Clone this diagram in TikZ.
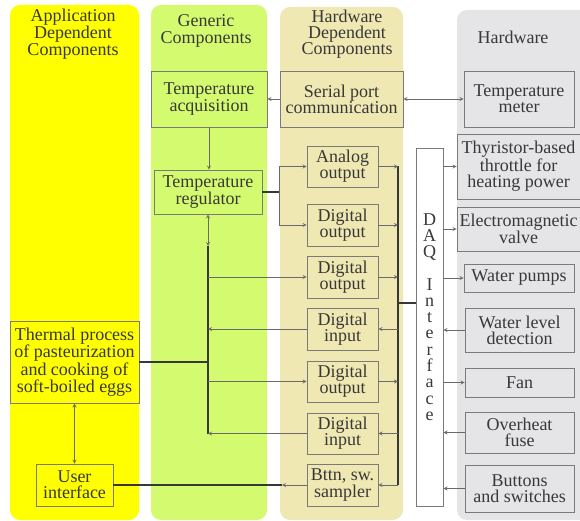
\documentclass[tikz,border=0pt]{standalone}
\usepackage{fontspec}
\setmainfont{Liberation Serif}
\newfontfamily\timesfont{Liberation Serif}
\usetikzlibrary{positioning}

\definecolor{appyellow}{HTML}{FFFF00}
\definecolor{gengreen}{HTML}{D4FB6F}
\definecolor{hwdtan}{HTML}{F0E8B2}
\definecolor{hwgray}{HTML}{E5E5E7}
\definecolor{boxline}{HTML}{7A7A7A}
\definecolor{wire}{HTML}{6A6A6A}
\definecolor{txt}{HTML}{383838}

\newcommand{\boxfont}{\timesfont\fontsize{18}{16.3}\selectfont}

\begin{document}
\begin{tikzpicture}[x=1pt, y=-1pt, >=stealth,
    lane/.style={rounded corners=10pt},
    head/.style={align=center, text=txt, font=\boxfont},
    box/.style={draw=boxline, line width=0.8pt, align=center, inner sep=0pt, text=txt, font=\boxfont},
    wire/.style={draw=wire, line width=0.8pt},
    bus/.style={draw=txt, line width=1.6pt}]
    \useasboundingbox (0,0) rectangle (580,521);

    % Lanes
    \fill[lane, appyellow] (10,5) rectangle (139,520);
    \fill[lane, gengreen] (151,5) rectangle (267,520);
    \fill[lane, hwdtan] (280,7) rectangle (403,520);
    \fill[lane, hwgray] (457,10) rectangle (600,520);

    \node[head] (apphead) at (73,34) {Application\\Dependent\\Components};
    \node[head] (genhead) at (206,31) {Generic\\Components};
    \node[head] (hwdhead) at (347,34) {Hardware\\Dependent\\Components};
    \node[head] (hwhead) at (513,37) {Hardware};

    % Application dependent
    \node[box, fill=appyellow, minimum width=129pt, minimum height=82pt] (thermal) at (74.5,362) {Thermal process\\of pasteurization\\and cooking of\\soft-boiled eggs};
    \node[box, fill=appyellow, minimum width=77pt, minimum height=42pt] (ui) at (74.5,485) {User\\interface};

    % Generic
    \node[box, fill=gengreen, minimum width=116pt, minimum height=56pt] (acq) at (209,99) {Temperature\\acquisition};
    \node[box, fill=gengreen, minimum width=108pt, minimum height=44pt] (reg) at (208,192) {Temperature\\regulator};

    % Hardware dependent
    \node[box, fill=hwdtan, minimum width=123pt, minimum height=56pt] (serial) at (341.5,99) {Serial port\\communication};
    \node[box, fill=hwdtan, minimum width=71pt, minimum height=41pt] (ao) at (342.5,166.5) {Analog\\output};
    \node[box, fill=hwdtan, minimum width=71pt, minimum height=42pt] (do1) at (342.5,225) {Digital\\output};
    \node[box, fill=hwdtan, minimum width=71pt, minimum height=42pt] (do2) at (342.5,277) {Digital\\output};
    \node[box, fill=hwdtan, minimum width=71pt, minimum height=42pt] (di1) at (342.5,329) {Digital\\input};
    \node[box, fill=hwdtan, minimum width=71pt, minimum height=41pt] (do3) at (342.5,381.5) {Digital\\output};
    \node[box, fill=hwdtan, minimum width=71pt, minimum height=41pt] (di2) at (342.5,433.5) {Digital\\input};
    \node[box, fill=hwdtan, minimum width=71pt, minimum height=42pt] (samp) at (342.5,485) {Bttn, sw.\\sampler};

    % DAQ
    \node[box, fill=white, minimum width=27pt, minimum height=358pt] (daq) at (429.5,327) {};
    \node[head, inner sep=0pt] (daqtext) at (429.5,317) {D\\A\\Q\\[16pt]I\\n\\t\\e\\r\\f\\a\\c\\e};

    % Hardware
    \node[box, fill=hwgray, minimum width=110pt, minimum height=56pt] (tmeter) at (519,99) {Temperature\\meter};
    \node[box, fill=hwgray, minimum width=123pt, minimum height=65pt] (thy) at (518.5,166.5) {Thyristor-based\\throttle for\\heating power};
    \node[box, fill=hwgray, minimum width=123pt, minimum height=44pt] (valve) at (518.5,229) {Electromagnetic\\valve};
    \node[box, fill=hwgray, minimum width=110pt, minimum height=28pt] (pumps) at (519,278) {Water pumps};
    \node[box, fill=hwgray, minimum width=109pt, minimum height=44pt] (level) at (519.5,330) {Water level\\detection};
    \node[box, fill=hwgray, minimum width=109pt, minimum height=29pt] (fan) at (519.5,382.5) {Fan};
    \node[box, fill=hwgray, minimum width=109pt, minimum height=41pt] (fuse) at (519.5,432.5) {Overheat\\fuse};
    \node[box, fill=hwgray, minimum width=109pt, minimum height=47pt] (buttons) at (519.5,488.5) {Buttons\\and switches};

    % Serial and acquisition
    \draw[wire, ->] (serial.west) -- (acq.east);
    \draw[wire, <->] (serial.east) -- (tmeter.west);
    \draw[wire, ->] (acq.south) -- (acq.south |- reg.north);

    % Regulator outputs
    \coordinate (split) at (279,192);
    \draw[bus] (reg.east) -- (split);
    \draw[wire] (split |- ao.west) -- (split |- do1.west);
    \draw[wire, ->] (split |- ao.west) -- (ao.west);
    \draw[wire, ->] (split |- do1.west) -- (do1.west);

    % Left bus
    \coordinate (lbtop) at (208,246);
    \draw[wire, <->] (reg.south) -- (lbtop);
    \draw[bus] (lbtop) -- (lbtop |- di2.west);
    \draw[wire, ->] (lbtop |- do2.west) -- (do2.west);
    \draw[wire, ->] (di1.west) -- (lbtop |- di1.west);
    \draw[bus] (thermal.east) -- (lbtop |- thermal.east);
    \draw[wire, ->] (lbtop |- do3.west) -- (do3.west);
    \draw[wire, ->] (di2.west) -- (lbtop |- di2.west);

    % Right bus
    \coordinate (rbus) at (398,303);
    \draw[bus] (rbus |- ao.east) -- (rbus |- samp.east);
    \draw[bus] (rbus) -- (daq.west |- rbus);
    \foreach \o in {ao, do1, do2, do3}
        \draw[wire, ->] (\o.east) -- (rbus |- \o.east);
    \foreach \i in {di1, di2, samp}
        \draw[wire, ->] (rbus |- \i.east) -- (\i.east);

    % DAQ and hardware
    \foreach \o in {thy, valve, pumps, fan}
        \draw[wire, ->] (daq.east |- \o.west) -- (\o.west);
    \foreach \i in {level, fuse, buttons}
        \draw[wire, ->] (\i.west) -- (daq.east |- \i.west);

    % User interface
    \draw[wire, <->] (thermal.south) -- (ui.north);
    \coordinate (samptip) at (282,485);
    \draw[wire, ->] (samp.west) -- (samptip);
    \draw[bus] (samptip) -- (ui.east);
\end{tikzpicture}
\end{document}
